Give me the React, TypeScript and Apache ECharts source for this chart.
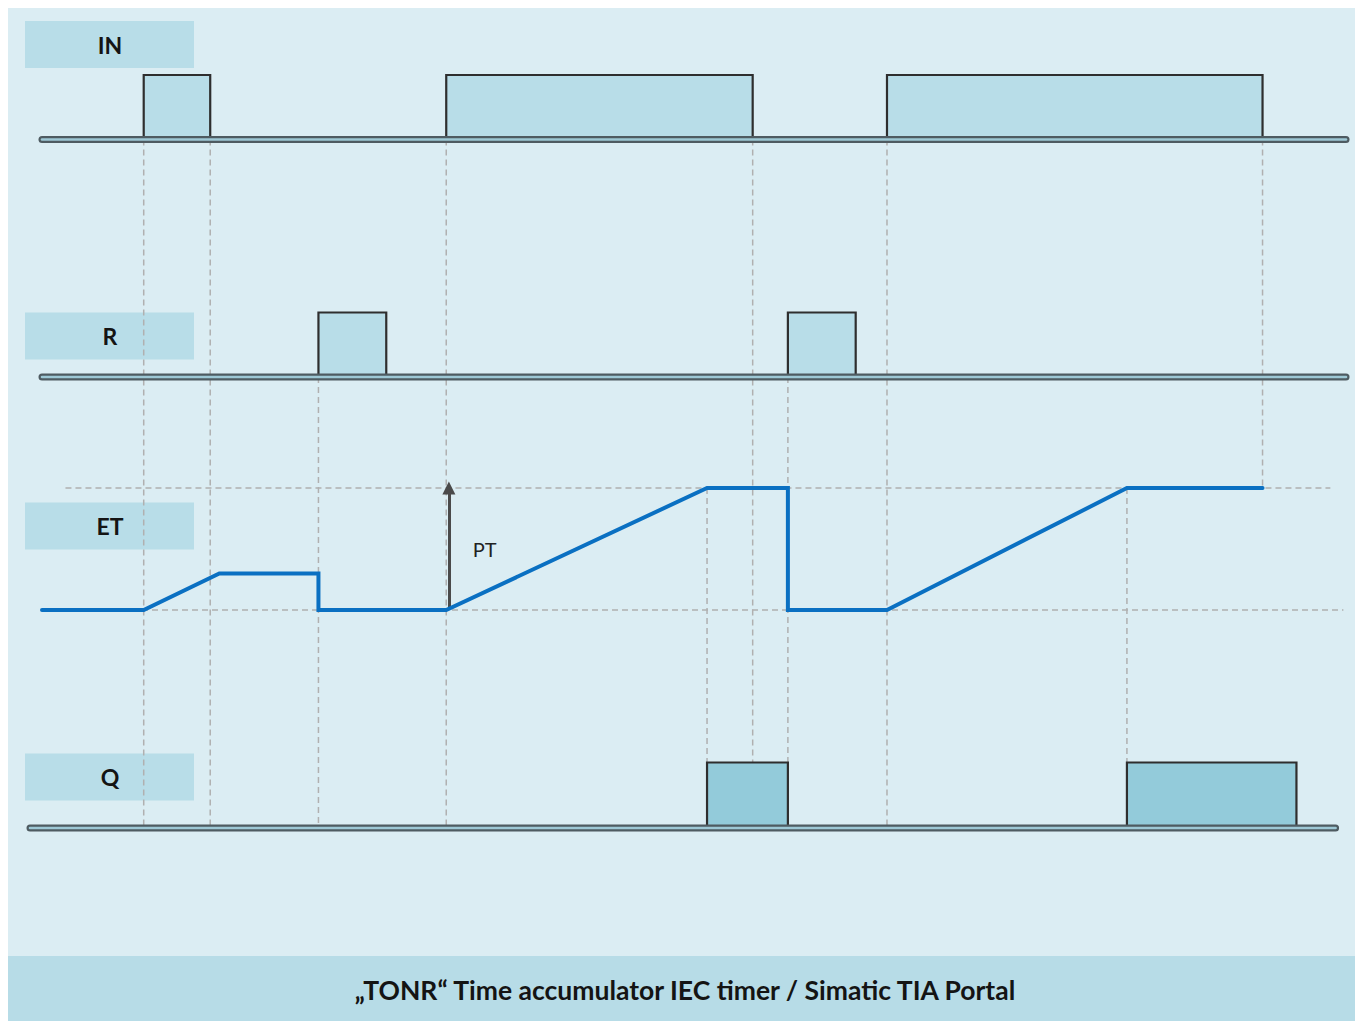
import React, { useEffect, useRef } from "react";
import * as echarts from "echarts";

// ---- data (time units; PT = 10) ----
const T_MIN = -0.5;
const T_MAX = 50;
const PT = 10;
const IN_EDGES = [[3.9, 6.45], [15.5, 27.25], [32.4, 46.8]];
const R_EDGES = [[10.6, 13.2], [28.6, 31.2]];
const Q_EDGES = [[25.5, 28.6], [41.6, 48.1]];
const BASE_SPAN = [0, 50];
const Q_BASE_SPAN = [-0.46, 49.6];
const ET_T = [0, 3.9, 6.8, 10.6, 10.6, 15.5, 25.5, 28.6, 28.6, 32.4, 41.6, 46.8];
const ET_V = [0, 0, 3.0, 3.0, 0, 0, 10, 10, 0, 0, 10, 10];
const PT_LINE_SPAN = [0.9, 49.4];
const ZERO_LINE_SPAN = [0, 49.9];
const PT_ARROW_T = 15.6;
const GUIDE_T = [3.9, 6.45, 10.6, 15.5, 25.5, 27.25, 28.6, 32.4, 41.6, 46.8];
const GUIDE_FROM = ["IN", "IN", "R", "IN", "PT", "IN", "R", "IN", "PT", "IN"];
const GUIDE_TO = ["Q", "Q", "Q", "Q", "Q", "Q", "Q", "Q", "Q", "PT"];
const SIGNAL_LABELS = ["IN", "R", "ET", "Q"];
const CAPTION = "\u201ETONR\u201C Time accumulator IEC timer / Simatic TIA Portal";

const LEVELS: Record<string, [number, number]> = {
  IN: [0, 0],
  R: [1, 0],
  PT: [2, PT],
  Q: [3, 0],
};

function pulseData(edges: number[][], span: number[]) {
  const d: number[][] = [[span[0], 0]];
  for (const [a, b] of edges) d.push([a, 0], [a, 1], [b, 1], [b, 0]);
  d.push([span[1], 0]);
  return d;
}

const GRID_LEFT = 20.96;
const GRID_RIGHT = 9;
const GRIDS = [
  { top: 67, height: 64.5 },
  { top: 304.5, height: 64.5 },
  { top: 480, height: 122 },
  { top: 754.5, height: 65.5 },
];
const LABEL_BOX_TOPS = [13, 304.5, 494.5, 745.5];

const BG = "#dbedf3";
const BAND = "#b7dce7";
const FILL = "#b8dde8";
const Q_FILL = "#93cbda";
const OUTLINE = "#2e2e2e";
const BAR_DARK = "#4e5b61";
const BAR_IN = "#9dc8d5";
const BLUE = "#0a70c2";
const GUIDE = "#b0b0b0";

export default function App() {
  const ref = useRef<HTMLDivElement>(null);
  useEffect(() => {
    const chart = echarts.init(ref.current!, null, { renderer: "svg" });
    const grid = GRIDS.map((g) => ({
      left: GRID_LEFT,
      right: GRID_RIGHT,
      top: g.top,
      height: g.height,
      containLabel: false,
      outerBoundsMode: "none",
    }));
    const xAxis = GRIDS.map((_, i) => ({
      type: "value",
      gridIndex: i,
      min: T_MIN,
      max: T_MAX,
      show: false,
    }));
    const yAxis = GRIDS.map((_, i) => ({
      type: "value",
      gridIndex: i,
      min: 0,
      max: i === 2 ? PT : 1,
      show: false,
    }));
    const series: any[] = [];
    const pulses = [
      { idx: 0, edges: IN_EDGES, span: BASE_SPAN, fill: FILL },
      { idx: 1, edges: R_EDGES, span: BASE_SPAN, fill: FILL },
      { idx: 3, edges: Q_EDGES, span: Q_BASE_SPAN, fill: Q_FILL },
    ];
    for (const p of pulses) {
      series.push({
        type: "line",
        xAxisIndex: p.idx,
        yAxisIndex: p.idx,
        data: pulseData(p.edges, p.span),
        symbol: "none",
        clip: false,
        z: 3,
        lineStyle: { color: OUTLINE, width: 2.2, join: "miter" },
        areaStyle: { color: p.fill, opacity: 1, origin: "start" },
        silent: true,
      });
      series.push({
        type: "line",
        xAxisIndex: p.idx,
        yAxisIndex: p.idx,
        data: [[p.span[0], 0], [p.span[1], 0]],
        symbol: "none",
        clip: false,
        z: 4,
        lineStyle: { color: BAR_DARK, width: 7, cap: "round" },
        silent: true,
      });
      series.push({
        type: "line",
        xAxisIndex: p.idx,
        yAxisIndex: p.idx,
        data: [[p.span[0], 0], [p.span[1], 0]],
        symbol: "none",
        clip: false,
        z: 5,
        lineStyle: { color: BAR_IN, width: 2.6, cap: "round" },
        silent: true,
      });
    }
    const dashed = { color: GUIDE, width: 1.5, type: [6, 4] };
    series.push({
      type: "line",
      xAxisIndex: 2,
      yAxisIndex: 2,
      data: [[PT_LINE_SPAN[0], PT], [PT_LINE_SPAN[1], PT]],
      symbol: "none",
      clip: false,
      z: 2,
      lineStyle: dashed,
      silent: true,
    });
    series.push({
      type: "line",
      xAxisIndex: 2,
      yAxisIndex: 2,
      data: [[ZERO_LINE_SPAN[0], 0], [ZERO_LINE_SPAN[1], 0]],
      symbol: "none",
      clip: false,
      z: 2,
      lineStyle: dashed,
      silent: true,
    });
    series.push({
      type: "line",
      xAxisIndex: 2,
      yAxisIndex: 2,
      data: ET_T.map((t, i) => [t, ET_V[i]]),
      symbol: "none",
      clip: false,
      z: 6,
      lineStyle: { color: BLUE, width: 4, cap: "round", join: "miter" },
      silent: true,
      markLine: {
        silent: true,
        symbol: ["none", "triangle"],
        symbolSize: [13, 13],
        label: { show: false },
        lineStyle: { color: "#4a4a4a", width: 3, type: "solid" },
        data: [[{ coord: [PT_ARROW_T, 0] }, { coord: [PT_ARROW_T, PT] }]],
      },
    });

    chart.setOption({
      animation: false,
      backgroundColor: BG,
      grid,
      xAxis,
      yAxis,
      series,
    });

    const px = (name: string, t: number) => {
      const [g, v] = LEVELS[name];
      return chart.convertToPixel({ gridIndex: g } as any, [t, v]) as number[];
    };
    const elements: any[] = [];
    elements.push({
      type: "rect",
      z: 0,
      shape: { x: 0, y: 948, width: 1400, height: 80 },
      style: { fill: BAND },
      silent: true,
    });
    elements.push({
      type: "text",
      z: 1,
      x: 677,
      y: 982,
      style: {
        text: CAPTION,
        fill: "#141414",
        font: "bold 26.5px Lato",
        align: "center",
        verticalAlign: "middle",
      },
      silent: true,
    });
    SIGNAL_LABELS.forEach((lab, i) => {
      elements.push({
        type: "rect",
        z: 0,
        shape: { x: 17, y: LABEL_BOX_TOPS[i], width: 169, height: 47 },
        style: { fill: FILL },
        silent: true,
      });
      elements.push({
        type: "text",
        z: 1,
        x: 102,
        y: LABEL_BOX_TOPS[i] + 23.5,
        style: {
          text: lab,
          fill: "#141414",
          font: "bold 23px Lato",
          align: "center",
          verticalAlign: "middle",
        },
        silent: true,
      });
    });
    GUIDE_T.forEach((t, i) => {
      const a = px(GUIDE_FROM[i], t);
      const b = px(GUIDE_TO[i], t);
      elements.push({
        type: "line",
        z: 1,
        shape: { x1: a[0], y1: a[1], x2: b[0], y2: b[1] },
        style: { stroke: GUIDE, lineWidth: 1.5, lineDash: [6, 4] },
        silent: true,
      });
    });
    const arrowBase = chart.convertToPixel({ gridIndex: 2 } as any, [PT_ARROW_T, 0]) as number[];
    const arrowTop = chart.convertToPixel({ gridIndex: 2 } as any, [PT_ARROW_T, PT]) as number[];
    elements.push({
      type: "text",
      z: 7,
      x: arrowBase[0] + 24,
      y: (arrowBase[1] + arrowTop[1]) / 2,
      style: {
        text: "PT",
        fill: "#222",
        font: "20px Lato",
        align: "left",
        verticalAlign: "middle",
      },
      silent: true,
    });
    chart.setOption({ graphic: { elements } });
    return () => chart.dispose();
  }, []);
  return (
    <div
      ref={ref}
      style={{ position: "fixed", left: 8, top: 8, width: 1347, height: 1013 }}
    />
  );
}
